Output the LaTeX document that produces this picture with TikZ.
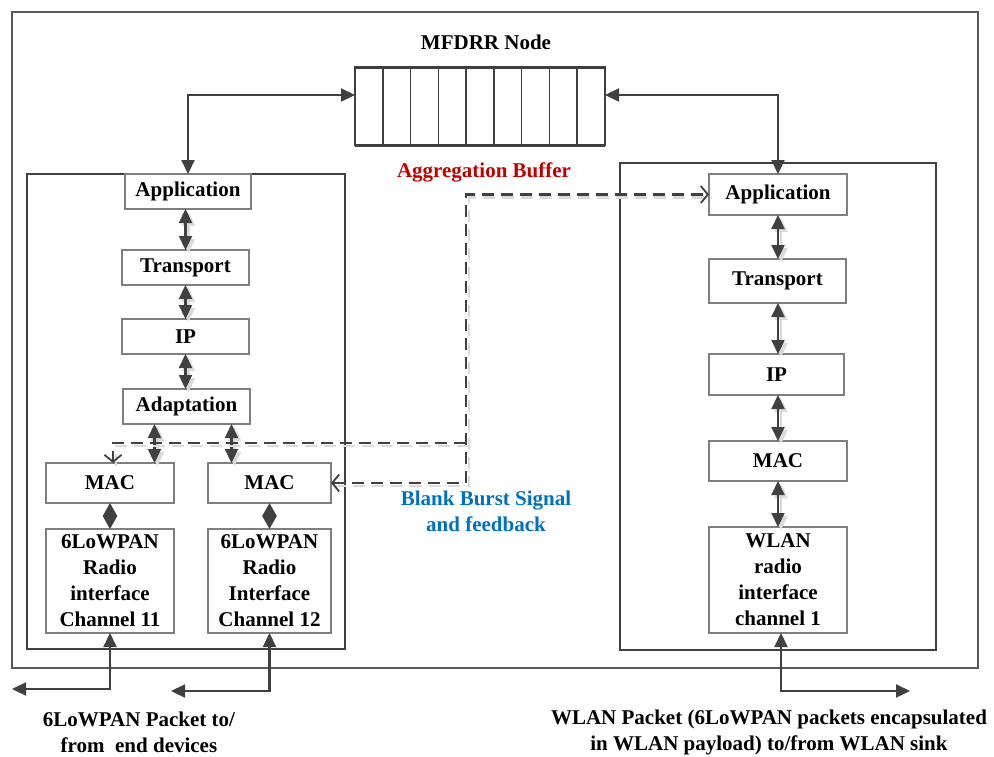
\documentclass[tikz,border=0pt]{standalone}
\usepackage{fontspec}
\setmainfont{Liberation Serif}
\usetikzlibrary{arrows.meta,calc}
\definecolor{linec}{HTML}{404040}
\definecolor{boxc}{HTML}{7F7F7F}
\definecolor{framec}{HTML}{595959}
\definecolor{redt}{HTML}{C00000}
\definecolor{bluet}{HTML}{0070C0}
\definecolor{shadowc}{HTML}{DADADA}
\tikzset{
  layer/.style={draw=boxc, line width=1.3pt, fill=white, inner sep=0pt, outer sep=0pt, align=center},
  frame/.style={draw=linec, line width=2.4pt},
  dbl/.style={{Triangle[length=14pt,width=13pt]}-{Triangle[length=14pt,width=13pt]}, line width=2.2pt, draw=linec},
  dia/.style={{Triangle[length=13pt,width=14pt]}-{Triangle[length=13pt,width=14pt]}, line width=2.2pt, draw=linec},
  shdbl/.style={{Triangle[length=14pt,width=13pt]}-{Triangle[length=14pt,width=13pt]}, line width=2.2pt, draw=shadowc, fill=shadowc},
  sig/.style={line width=2.4pt, draw=linec, dash pattern=on 12pt off 7pt},
  sigsh/.style={line width=2.4pt, draw=shadowc, dash pattern=on 12pt off 7pt},
  barb/.tip={Straight Barb[length=7pt,width=17pt,line width=1.8pt]},
  lbl/.style={inner sep=0pt, align=center}
}
% vertical links inside both stacks, drawn with the style given
\newcommand\stacklinks[1]{%
  \draw[#1] (ltr.north |- lapp.south) -- (ltr.north);
  \draw[#1] (lip.north |- ltr.south) -- (lip.north);
  \draw[#1] (lad.north -| lip.south) -- (lip.south);
  \draw[#1] ([xshift=-32pt]lad.south) -- ([xshift=-32pt]lad.south |- lmac1.north);
  \draw[#1] ([xshift=45pt]lad.south) -- ([xshift=45pt]lad.south |- lmac2.north);
  \draw[#1] (rapp.south) -- (rapp.south |- rtr.north);
  \draw[#1] (rapp.south |- rtr.south) -- (rapp.south |- rip.north);
  \draw[#1] (rapp.south |- rip.south) -- (rmac.north);
  \draw[#1] (rmac.south) -- (rwlan.north);
}
\begin{document}
\begin{tikzpicture}[x=1pt,y=-1pt, font=\fontsize{21}{26}\selectfont\bfseries]
\useasboundingbox (0,0) rectangle (994,756);

% enclosing node frame and the two radio stacks
\draw[draw=framec, line width=1.6pt] (12,12) rectangle (978,668);
\draw[frame] (27,174) rectangle (345,649);
\draw[frame] (620,163) rectangle (936,650);

% aggregation buffer
\node[draw=linec, line width=1.6pt, minimum width=250pt, minimum height=78pt, inner sep=0pt, outer sep=0pt] (buf) at (480,106) {};
\draw[linec, line width=3pt] (buf.north west) -- (buf.north east) (buf.south west) -- (buf.south east);
\foreach \k in {1,...,8}
  \draw[linec, line width=1.5pt] ($(buf.north west)+(\k*27.78,0)$) -- ++(0,78);

\node[lbl] (title) at (486,42) {MFDRR Node};
\node[lbl, text=redt] (aggr) at (484,172) {Aggregation Buffer};

% left stack: two 6LoWPAN channels
\node[layer, minimum width=126pt, minimum height=35pt] (lapp) at (188,191.5) {Application};
\node[layer, minimum width=127pt, minimum height=35pt] (ltr) at (185.5,267.5) {Transport};
\node[layer, minimum width=127pt, minimum height=35pt] (lip) at (185.5,336.5) {IP};
\node[layer, minimum width=127pt, minimum height=35pt] (lad) at (186.5,406.5) {Adaptation};
\node[layer, minimum width=128pt, minimum height=40pt] (lmac1) at (110,483) {MAC};
\node[layer, minimum width=123pt, minimum height=40pt] (lmac2) at (269.5,483) {MAC};
\node[layer, minimum width=128pt, minimum height=104pt] (lrad1) at (110,581) {6LoWPAN\\Radio\\interface\\Channel 11};
\node[layer, minimum width=123pt, minimum height=104pt] (lrad2) at (269.5,581) {6LoWPAN\\Radio\\Interface\\Channel 12};

% right stack: WLAN channel
\node[layer, minimum width=138pt, minimum height=41pt] (rapp) at (778,194.5) {Application};
\node[layer, minimum width=137pt, minimum height=44pt] (rtr) at (777.5,281) {Transport};
\node[layer, minimum width=135pt, minimum height=41pt] (rip) at (776.5,374.5) {IP};
\node[layer, minimum width=138pt, minimum height=40pt] (rmac) at (778,461) {MAC};
\node[layer, minimum width=138pt, minimum height=106pt] (rwlan) at (778,580) {WLAN\\radio\\interface\\channel 1};

% buffer links
\draw[dbl] ([yshift=11pt]buf.west) -| (lapp.north);
\draw[dbl] ([yshift=11pt]buf.east) -| (rapp.north);

% stack links, with a soft offset shade behind them
\begin{scope}[transform canvas={shift={(3pt,-3pt)}}]
  \stacklinks{shdbl}
\end{scope}
\stacklinks{dbl}
\draw[dia] (lmac1.south) -- (lrad1.north);
\draw[dia] (lmac2.south) -- (lrad2.north);

% blank burst signalling and feedback
\coordinate (jtop) at (466,194.5);
\coordinate (jmid) at (466,443);
\coordinate (jbot) at (466,483);
\coordinate (jleft) at (113,443);
\begin{scope}[transform canvas={shift={(3pt,-3pt)}}]
  \draw[sigsh] (lmac2.east) -- (jbot) -- (jtop) -- (rapp.west);
  \draw[sigsh] (jmid) -- (jleft) -- (jleft |- lmac1.north);
\end{scope}
\draw[sig, barb-barb] (lmac2.east) -- (jbot) -- (jtop) -- (rapp.west);
\draw[sig, -barb] (jmid) -- (jleft) -- (jleft |- lmac1.north);
\node[lbl, text=bluet] (bbs) at (486,511) {Blank Burst Signal\\and feedback};

% external links
\coordinate (e1) at (12,689);
\coordinate (e2) at (171,691);
\coordinate (e3) at (910,691);
\draw[dbl] (lrad1.south) |- (e1);
\draw[dbl] (lrad2.south) |- (e2);
\draw[dbl] ([xshift=3pt]rwlan.south) |- (e3);

\node[lbl] (lpk) at (139,732) {6LoWPAN Packet to/\\from\ \ end devices};
\node[lbl] (rpk) at (769,732) {WLAN Packet (6LoWPAN packets encapsulated\\in WLAN payload) to/from WLAN sink};
\end{tikzpicture}
\end{document}
